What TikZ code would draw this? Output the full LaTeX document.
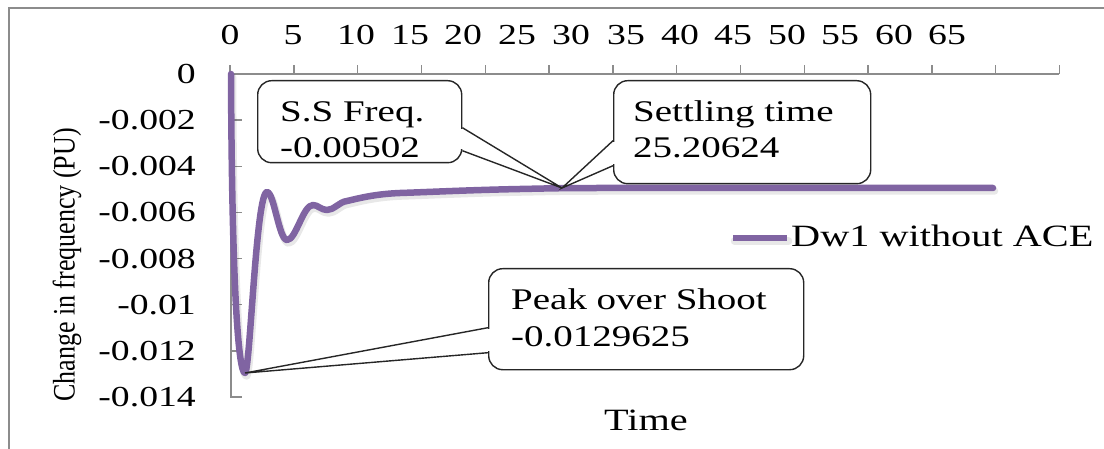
\documentclass[tikz,border=0pt]{standalone}
\usepackage{fontspec}
\setmainfont{Liberation Serif}[FakeStretch=1.3]
\newfontfamily\plainserif{Liberation Serif}
\definecolor{curvepurple}{HTML}{8064A2}
\definecolor{axisgray}{HTML}{8C8C8C}
\newcommand{\mytwoline}[2]{\begin{tabular}[t]{@{}l@{}}#1\\#2\end{tabular}}
\newcommand{\freqcurve}{(231,74) .. controls (232,300) and (239,373) .. (245,373)
  .. controls (250,373) and (256,192) .. (267,192)
  .. controls (274,192) and (279,240) .. (287,240)
  .. controls (296,240) and (303,205) .. (313,205)
  .. controls (318,205) and (321,210) .. (327,210)
  .. controls (334,210) and (339,202) .. (347,201)
  .. controls (360,198) and (375,194) .. (400,193)
  .. controls (430,192) and (470,190) .. (520,189)
  .. controls (545,188.5) and (560,188) .. (600,188) -- (993,188)}
\begin{document}
\begin{tikzpicture}[x=1pt,y=-1pt,
  tickx/.style={font=\fontsize{29}{34}\selectfont, anchor=base, inner sep=0pt},
  ticky/.style={font=\fontsize{29}{34}\selectfont, anchor=base east, inner sep=0pt},
  note/.style={font=\fontsize{30}{36}\selectfont, anchor=base west, inner sep=0pt},
  callbox/.style={draw=black!85, line width=1.4pt, rounded corners=14pt, fill=white, inner sep=0pt, anchor=north west},
  pointer/.style={draw=black!85, line width=1.4pt, line join=miter},
  axisline/.style={draw=axisgray, line width=1.4pt},
  curve/.style={draw=curvepurple, line width=6.5pt, line cap=round, line join=round},
  curveshadow/.style={draw=black, opacity=0.09, line width=7.5pt, line cap=round, line join=round}
]
\useasboundingbox (0,0) rectangle (1104,449);
% outer frame
\draw[draw=axisgray, line width=2pt] (9,449) -- (9,8) -- (1104,8);
% axes
\draw[axisline] (231,74) -- (1059,74);
\foreach \i in {0,...,13} \draw[axisline] ({230+\i*63.8},74) -- ({230+\i*63.8},65);
\draw[axisline] (231,74) -- (231,397) -- (242,397);
\foreach \j in {1,...,6} \draw[axisline] (231,{74+\j*46.14}) -- (242,{74+\j*46.14});
% x tick labels
\foreach \v/\xc in {0/230,5/293,10/356,15/410,20/463,25/517,30/571,35/626,40/680,45/733,50/787,55/840,60/894,65/947}
  \node[tickx] (xl\v) at (\xc,45) {\v};
% y tick labels
\foreach \j/\t in {0/0,1/-0.002,2/-0.004,3/-0.006,4/-0.008,5/-0.01,6/-0.012,7/-0.014}
  \node[ticky] (yl\j) at (196,{83.5+\j*46.14}) {\t};
% axis titles
\node[inner sep=0pt] (ytitle) at (67,265) {\rotatebox{90}{\scalebox{1}[1.2]{\plainserif\fontsize{26}{30}\selectfont Change in frequency (PU)}}};
\node[font=\fontsize{31}{36}\selectfont, anchor=base, inner sep=0pt] (xtitle) at (646,430) {Time};
% curve shadow
\begin{scope}[shift={(1.5,3)}]
\draw[curveshadow] \freqcurve;
\draw[curveshadow] (733,238) -- (787,238);
\end{scope}
% curve
\draw[curve] \freqcurve;
% legend
\coordinate (legA) at (733,238);
\coordinate (legB) at (787,238);
\draw[curve, line cap=butt] (legA) -- (legB);
\node[font=\fontsize{31}{36}\selectfont, anchor=base west, inner sep=0pt] (legtext) at (791,247) {Dw1 without ACE};
% callout tips
\coordinate (ssTip) at (562,188);
\coordinate (pkTip) at (245,373);
% S.S Freq callout
\node[callbox, minimum width=204pt, minimum height=82pt] (ssBox) at (257,80) {};
\fill[white] ([xshift=-2pt,yshift=-7.5pt]ssBox.east) rectangle ([xshift=2pt,yshift=-27.5pt]ssBox.east);
\draw[pointer] ([yshift=-6pt]ssBox.east) -- (ssTip) -- ([yshift=-29pt]ssBox.east);
\node[note] (ssText) at (280,122) {\mytwoline{S.S Freq.}{-0.00502}};
% Settling time callout
\node[callbox, minimum width=257pt, minimum height=103pt] (stBox) at (613,80) {};
\fill[white] ([xshift=-2pt,yshift=-10pt]stBox.west) rectangle ([xshift=2pt,yshift=-32pt]stBox.west);
\draw[pointer] ([yshift=-8.5pt]stBox.west) -- (ssTip) -- ([yshift=-33.5pt]stBox.west);
\node[note] (stText) at (633,122) {\mytwoline{Settling time}{25.20624}};
% Peak over shoot callout
\node[callbox, minimum width=315pt, minimum height=101pt] (pkBox) at (488,268) {};
\fill[white] ([xshift=-2pt,yshift=-10pt]pkBox.west) rectangle ([xshift=2pt,yshift=-32pt]pkBox.west);
\draw[pointer] ([yshift=-8.5pt]pkBox.west) -- (pkTip) -- ([yshift=-33.5pt]pkBox.west);
\node[note] (pkText) at (511,310) {\mytwoline{Peak over Shoot}{-0.0129625}};
\end{tikzpicture}
\end{document}
